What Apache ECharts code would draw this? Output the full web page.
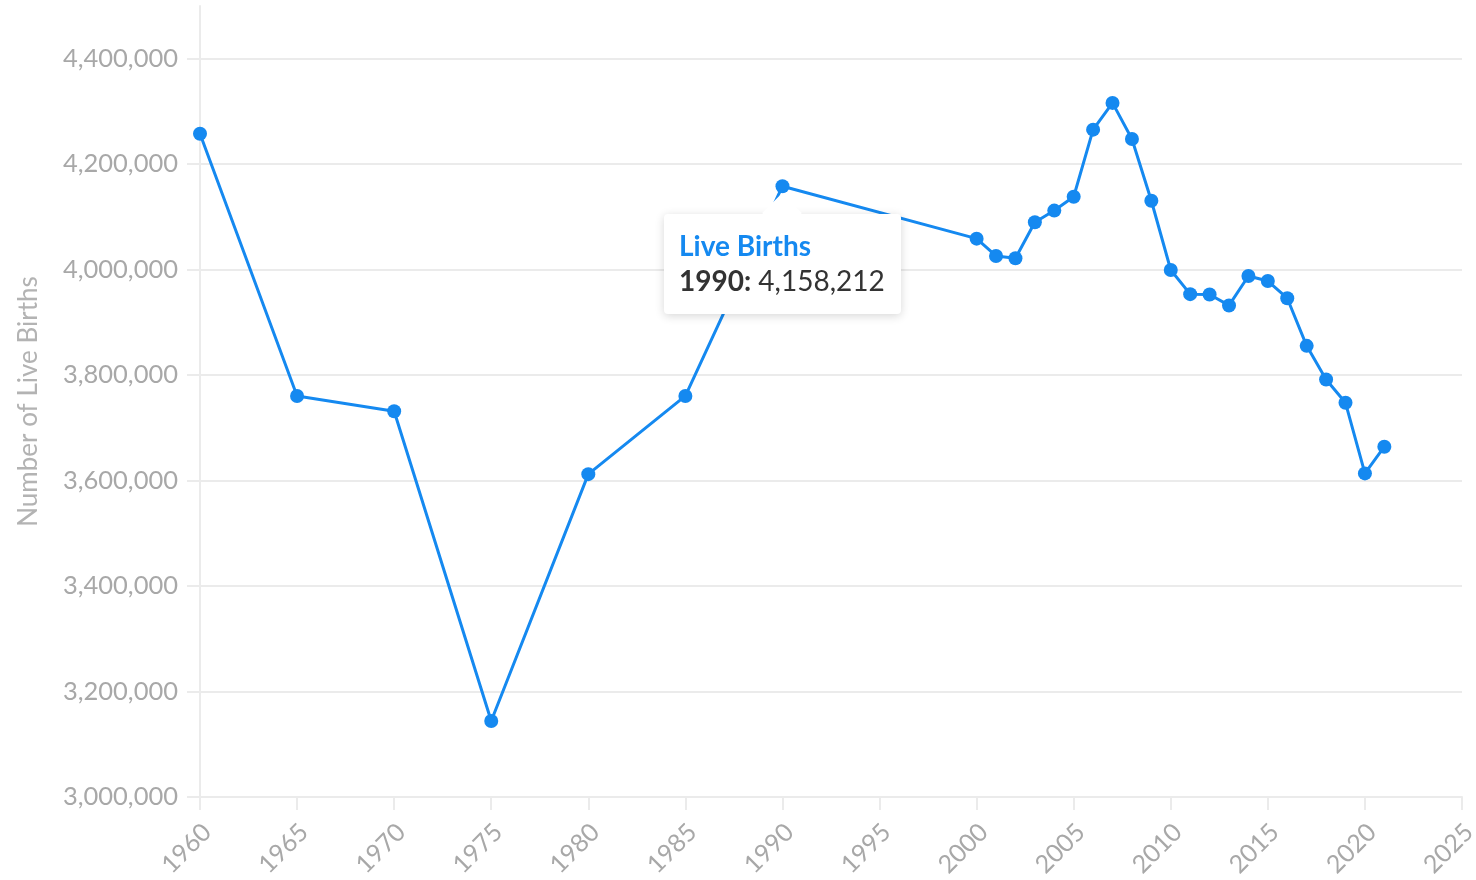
<!DOCTYPE html>
<html>
<head>
<meta charset="utf-8">
<style>
  html, body { margin: 0; padding: 0; background: #fff; }
  #chart { width: 1476px; height: 880px; }
</style>
<script src="https://cdn.jsdelivr.net/npm/echarts@6/dist/echarts.min.js"></script>
</head>
<body>
<div id="chart"></div>
<script>
// Live births per year
const years = [1960, 1965, 1970, 1975, 1980, 1985, 1990,
  2000, 2001, 2002, 2003, 2004, 2005, 2006, 2007, 2008, 2009, 2010,
  2011, 2012, 2013, 2014, 2015, 2016, 2017, 2018, 2019, 2020, 2021];
const births = [4257850, 3760358, 3731386, 3144198, 3612258, 3760561, 4158212,
  4058814, 4025933, 4021726, 4089950, 4112052, 4138349, 4265555, 4316233, 4247694, 4130665, 3999386,
  3953590, 3952841, 3932181, 3988076, 3978497, 3945875, 3855500, 3791712, 3747540, 3613647, 3664292];
const yTicks = [3000000, 3200000, 3400000, 3600000, 3800000, 4000000, 4200000, 4400000];
const seriesName = 'Live Births';
const tipIndex = 6; // 1990

const BLUE = '#1589f0';
const GRID = '#ebebeb';
const LABEL = '#a8a8a8';
const FONT = 'Lato, "Open Sans", sans-serif';
const fmt = (v) => Number(v).toLocaleString('en-US');

const chart = echarts.init(document.getElementById('chart'), null, { renderer: 'canvas' });

chart.setOption({
  animation: false,
  grid: { left: 200, right: 14, top: 6, bottom: 83, containLabel: false, outerBoundsMode: 'none' },
  tooltip: {
    trigger: 'item',
    triggerOn: 'none',
    alwaysShowContent: true,
    transitionDuration: 0,
    backgroundColor: '#fff',
    borderWidth: 0,
    padding: [14, 16, 16, 15],
    extraCssText: 'box-shadow:0 2px 10px rgba(0,0,0,0.16);border-radius:4px;',
    textStyle: { fontFamily: FONT, fontSize: 28, color: '#333' },
    position: (point, params, dom, rect, size) => [point[0] - size.contentSize[0] / 2, point[1] + 28],
    formatter: (p) =>
      // little arrow pointing up at the point
      '<div style="position:absolute;left:50%;top:-15px;width:28px;height:28px;margin-left:-14px;' +
      'background:#fff;transform:rotate(45deg);"></div>' +
      '<div style="position:relative;line-height:35px;font-family:' + FONT.replace(/"/g, "'") + ';font-size:28px;">' +
      '<div style="color:' + BLUE + ';font-weight:700;">' + p.seriesName + '</div>' +
      '<div style="color:#333;"><b>' + p.value[0] + ':</b> ' + fmt(p.value[1]) + '</div></div>'
  },
  xAxis: {
    type: 'value',
    min: 1960,
    max: 2025,
    interval: 5,
    axisLine: { show: true, lineStyle: { color: GRID, width: 2 } },
    axisTick: { show: true, length: 13, lineStyle: { color: GRID, width: 2 } },
    splitLine: { show: false },
    axisLabel: {
      rotate: 45,
      margin: 38,
      padding: [0, -10, 0, 0],   // nudge along the slant so the end sits right of the tick
      color: LABEL,
      fontFamily: FONT,
      fontSize: 25,
      formatter: (v) => String(v)
    }
  },
  yAxis: {
    type: 'value',
    min: 3000000,
    max: 4500000,
    name: 'Number of Live Births',
    nameLocation: 'middle',
    nameGap: 158,
    nameTextStyle: { color: '#b3b3b3', fontFamily: FONT, fontSize: 26 },
    axisLine: { show: true, lineStyle: { color: GRID, width: 2 } },
    axisTick: { show: true, length: 13, customValues: yTicks, lineStyle: { color: GRID, width: 2 } },
    splitLine: { show: true, lineStyle: { color: GRID, width: 2 } },
    axisLabel: {
      customValues: yTicks,
      margin: 22,
      color: LABEL,
      fontFamily: FONT,
      fontSize: 25.5,
      formatter: fmt
    }
  },
  series: [{
    name: seriesName,
    type: 'line',
    data: years.map((y, i) => [y, births[i]]),
    symbol: 'circle',
    symbolSize: 14,
    itemStyle: { color: BLUE },
    lineStyle: { color: BLUE, width: 3 },
    emphasis: { disabled: true },
    z: 3
  }]
});

chart.dispatchAction({ type: 'showTip', seriesIndex: 0, dataIndex: tipIndex });
</script>
</body>
</html>
